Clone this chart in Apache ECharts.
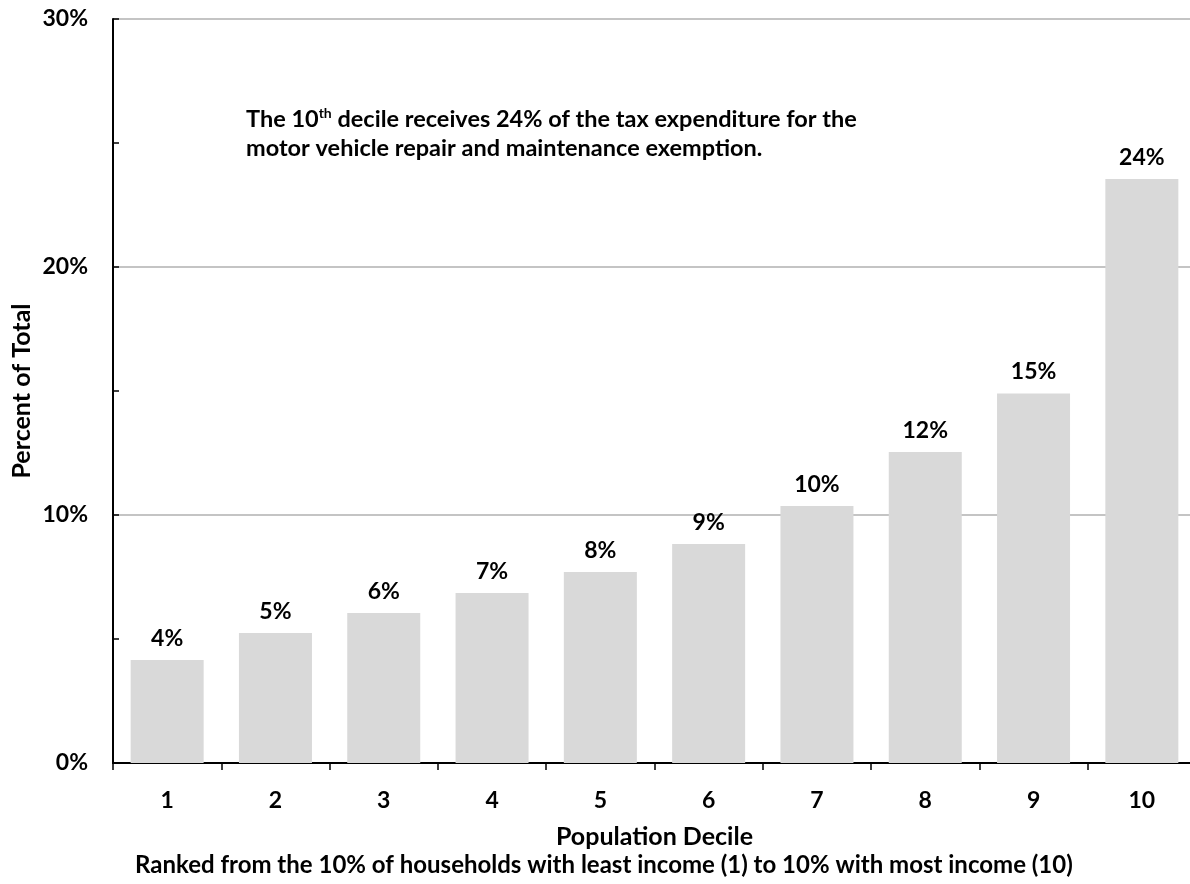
<!DOCTYPE html>
<html>
<head>
<meta charset="utf-8">
<script src="https://cdn.jsdelivr.net/npm/echarts@6/dist/echarts.min.js"></script>
<style>
  html, body { margin: 0; padding: 0; background: #fff; }
  #chart { width: 1190px; height: 884px; }
</style>
</head>
<body>
<div id="chart"></div>
<script>
// deciles on the x axis
const deciles = ["1", "2", "3", "4", "5", "6", "7", "8", "9", "10"];
// share of the tax expenditure (percent)
const shares = [4.15, 5.24, 6.05, 6.85, 7.7, 8.83, 10.36, 12.54, 14.9, 23.55];
// labels printed above the bars
const barLabels = ["4%", "5%", "6%", "7%", "8%", "9%", "10%", "12%", "15%", "24%"];
// y tick labels
const yTicks = [0, 10, 20, 30];

const font = "Lato, 'Open Sans', sans-serif";

let myChart = echarts.init(document.getElementById("chart"));

let option = {
  animation: false,
  grid: { left: 113, top: 19, width: 1083, bottom: 121, outerBoundsMode: "none" },
  xAxis: [
    {
      type: "category",
      data: deciles,
      axisLine: { lineStyle: { color: "#000", width: 2 } },
      axisTick: { show: true, length: 7, lineStyle: { color: "#000", width: 1.5 } },
      axisLabel: { color: "#000", fontFamily: font, fontWeight: "bold", fontSize: 23, margin: 26 },
      name: "Population Decile",
      nameLocation: "middle",
      nameGap: 61,
      nameMoveOverlap: false,
      nameTextStyle: { color: "#000", fontFamily: font, fontWeight: "bold", fontSize: 25 }
    },
    {
      // top border of the plot
      type: "category",
      position: "top",
      data: deciles,
      axisLine: { lineStyle: { color: "#000", width: 2 } },
      axisTick: { show: false },
      axisLabel: { show: false }
    }
  ],
  yAxis: [
    {
      type: "value",
      min: 0,
      max: 30,
      interval: 5,
      axisLine: { show: true, lineStyle: { color: "#000", width: 2 } },
      axisTick: { show: true, inside: true, length: 6, lineStyle: { color: "#000", width: 1.5 } },
      splitLine: { show: false },
      axisLabel: {
        color: "#000", fontFamily: font, fontWeight: "bold", fontSize: 23, margin: 25,
        formatter: v => (yTicks.indexOf(v) >= 0 ? v + "%" : "")
      },
      name: "Percent of Total",
      nameLocation: "middle",
      nameRotate: 90,
      nameGap: 79,
      nameMoveOverlap: false,
      nameTextStyle: { color: "#000", fontFamily: font, fontWeight: "bold", fontSize: 25 }
    },
    {
      // gridlines every 10%
      type: "value",
      min: 0,
      max: 30,
      interval: 10,
      position: "left",
      axisLine: { show: false },
      axisTick: { show: false },
      axisLabel: { show: false },
      splitLine: { show: true, lineStyle: { color: "#b0b0b0", width: 1.5 } }
    }
  ],
  series: [
    {
      type: "bar",
      data: shares,
      barWidth: 73,
      itemStyle: { color: "#d9d9d9" },
      label: {
        show: true,
        position: "top",
        distance: 10,
        color: "#000",
        fontFamily: font,
        fontWeight: "bold",
        fontSize: 23,
        formatter: p => barLabels[p.dataIndex]
      }
    }
  ],
  graphic: [
    {
      type: "text",
      left: 246,
      top: 106,
      style: {
        text: "{b|The 10}{s|th}{b| decile receives 24% of the tax expenditure for the}\n{b|motor vehicle repair and maintenance exemption.}",
        rich: {
          b: { fontFamily: font, fontWeight: "bold", fontSize: 23.5, fill: "#000", lineHeight: 29, verticalAlign: "bottom" },
          s: { fontFamily: font, fontWeight: "bold", fontSize: 14, fill: "#000", lineHeight: 29, padding: [0, 0, 11, 0], verticalAlign: "bottom" }
        }
      }
    },
    {
      type: "text",
      left: 135,
      top: 853,
      style: {
        text: "Ranked from the 10% of households with least income (1) to 10% with most income (10)",
        fontFamily: font,
        fontWeight: "bold",
        fontSize: 24,
        fill: "#000"
      }
    }
  ]
};

myChart.setOption(option);
</script>
</body>
</html>
